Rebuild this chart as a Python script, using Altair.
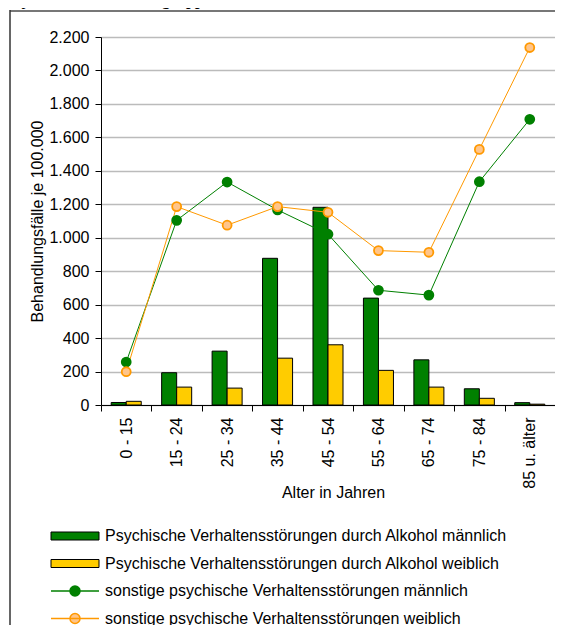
import altair as alt
import pandas as pd

# ---------------- data ----------------
categories = ["0 - 15", "15 - 24", "25 - 34", "35 - 44", "45 - 54",
              "55 - 64", "65 - 74", "75 - 84", "85 u. älter"]
alkohol_m = [15, 193, 322, 877, 1182, 639, 270, 97, 14]
alkohol_w = [22, 107, 101, 280, 360, 207, 107, 40, 5]
sonstige_m = [257, 1104, 1333, 1166, 1021, 686, 657, 1335, 1708]
sonstige_w = [199, 1186, 1075, 1186, 1152, 923, 913, 1528, 2137]

S_AM = "Psychische Verhaltensstörungen durch Alkohol männlich"
S_AW = "Psychische Verhaltensstörungen durch Alkohol weiblich"
S_SM = "sonstige psychische Verhaltensstörungen männlich"
S_SW = "sonstige psychische Verhaltensstörungen weiblich"
y_ticks = [0, 200, 400, 600, 800, 1000, 1200, 1400, 1600, 1800, 2000, 2200]
title_text = "je 100.000 der Altersgruppe"

bar_rows = []
for i, c in enumerate(categories):
    bar_rows.append({"Alter": c, "Serie": S_AM, "Wert": alkohol_m[i], "idx": i})
    bar_rows.append({"Alter": c, "Serie": S_AW, "Wert": alkohol_w[i], "idx": i})
bar_df = pd.DataFrame(bar_rows)

line_rows = []
for i, c in enumerate(categories):
    line_rows.append({"Alter": c, "Serie": S_SM, "Wert": sonstige_m[i], "idx": i})
    line_rows.append({"Alter": c, "Serie": S_SW, "Wert": sonstige_w[i], "idx": i})
line_df = pd.DataFrame(line_rows)

FONT = "Liberation Sans"
GREEN = "#008000"
YELLOW = "#FFCC00"
ORANGE = "#FF9900"
PEACH = "#FFC58A"

x_scale = alt.Scale(domain=categories, paddingInner=0, paddingOuter=0)
y_scale = alt.Scale(domain=[0, 2200], nice=False, zero=True)

x_axis = alt.Axis(
    title="Alter in Jahren", labelAngle=270, labelAlign="right", labelBaseline="middle",
    tickBand="extent", tickSize=6, labelPadding=6, domainColor="black", tickColor="black",
    labelFontSize=16, labelFont=FONT, labelColor="black", labelOverlap=False,
    titleFontSize=16, titleFont=FONT, titleFontWeight="normal", titleColor="black",
    titleX=232, titleY=92, titleBaseline="alphabetic", titleAlign="center", grid=False,
)
y_axis = alt.Axis(
    title="Behandlungsfälle je 100.000", values=y_ticks, tickCount=12,
    labelExpr="replace(format(datum.value, ','), ',', '.')", labelOverlap=False,
    grid=True, gridColor="#BBBBBB", gridWidth=1.5, domainColor="black", tickColor="black",
    tickSize=6, labelPadding=6, labelFontSize=16, labelFont=FONT, labelColor="black",
    titleFontSize=16, titleFont=FONT, titleFontWeight="normal", titleColor="black",
    titleX=-64, titleY=184, titleAngle=270, titleBaseline="middle", titleAlign="center",
)

legend_common = dict(
    title=None, orient="none", legendX=-54, padding=0, symbolSize=64,
    labelFontSize=16, labelFont=FONT, labelColor="black", labelOffset=42,
    labelLimit=700, rowPadding=11.5,
)
bar_legend = alt.Legend(
    legendY=491, symbolType="M-1,-1L11,-1L11,1L-1,1Z",
    symbolStrokeColor="black", symbolStrokeWidth=1, **legend_common,
)
line_legend = alt.Legend(
    legendY=546,
    symbolType="M-1,0L11,0M3.75,0A1.25,1.25,0,1,1,6.25,0A1.25,1.25,0,1,1,3.75,0Z",
    symbolStrokeWidth=1.5, **legend_common,
)

frame_top = alt.Chart(pd.DataFrame({"a": [0]})).mark_rule(
    stroke="#777777", strokeWidth=2
).encode(x=alt.value(-91), x2=alt.value(454), y=alt.value(-26))
frame_left = alt.Chart(pd.DataFrame({"a": [0]})).mark_rule(
    stroke="#333333", strokeWidth=1.5
).encode(x=alt.value(-91), y=alt.value(-27), y2=alt.value(588))

title = alt.Chart(pd.DataFrame({"t": [title_text]})).mark_text(
    align="left", baseline="alphabetic", font="Liberation Serif", fontSize=16,
    fontWeight="bold", color="black"
).encode(x=alt.value(-79), y=alt.value(-32), text="t:N")

x_enc = alt.X("Alter:N", sort=categories, scale=x_scale, axis=x_axis)
y_enc = alt.Y("Wert:Q", scale=y_scale, axis=y_axis)

bars = alt.Chart(bar_df).mark_bar(stroke="black", strokeWidth=1).encode(
    x=x_enc,
    xOffset=alt.XOffset("Serie:N", sort=[S_AM, S_AW],
                        scale=alt.Scale(domain=[S_AM, S_AW], paddingInner=0, paddingOuter=0.68)),
    y=y_enc,
    color=alt.Color("Serie:N", scale=alt.Scale(domain=[S_AM, S_AW], range=[GREEN, YELLOW]),
                    legend=bar_legend),
)

line_stroke_scale = alt.Scale(domain=[S_SM, S_SW], range=[GREEN, ORANGE])

lines = alt.Chart(line_df).mark_line(strokeWidth=1).encode(
    x=x_enc,
    y=y_enc,
    stroke=alt.Stroke("Serie:N", scale=line_stroke_scale, legend=line_legend),
    order=alt.Order("idx:Q"),
)

points = alt.Chart(line_df).mark_point(shape="circle", filled=True, size=80,
                                       strokeWidth=1.8, opacity=1).encode(
    x=x_enc,
    y=y_enc,
    stroke=alt.Stroke("Serie:N", scale=line_stroke_scale, legend=line_legend),
    fill=alt.Fill("Serie:N", scale=alt.Scale(domain=[S_SM, S_SW], range=[GREEN, PEACH]),
                  legend=line_legend),
)

chart = alt.layer(bars, frame_top, frame_left, lines, points, title).properties(
    width=454, height=368,
    autosize=alt.AutoSizeParams(type="none"),
    padding={"left": 93, "top": 29, "right": 0, "bottom": 220},
    background="white",
).configure_view(stroke=None)

chart.save("out.html", embed_options={"renderer": "svg", "actions": False})
